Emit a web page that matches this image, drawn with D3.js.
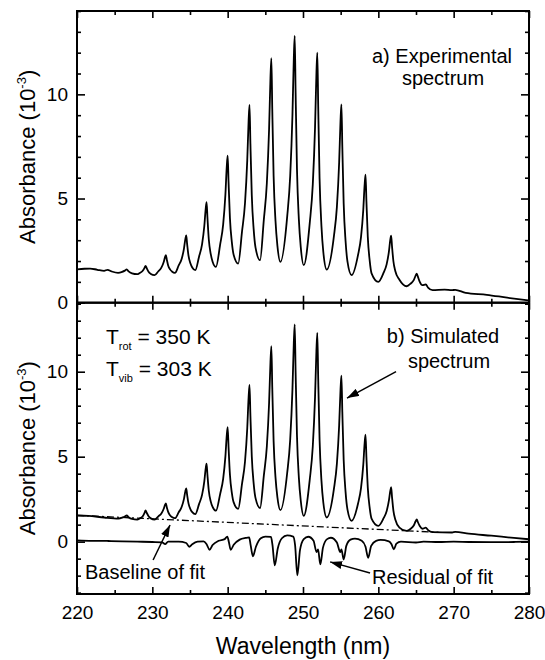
<!DOCTYPE html>
<html><head><meta charset="utf-8">
<script src="https://cdn.jsdelivr.net/npm/d3@7"></script>
<style>
html,body{margin:0;padding:0;background:#fff;}
svg text{font-family:"Liberation Sans",Arial,Helvetica,sans-serif;fill:#000;}
</style></head>
<body>
<svg id="chart" width="545" height="660"></svg>
<script>
// ---------- data ----------
const xTicksMajor = [220, 230, 240, 250, 260, 270, 280];
const xTicksMinor = [225, 235, 245, 255, 265, 275];
const yTicksTopMajor = [0, 5, 10];
const yTicksBotMajor = [0, 5, 10];

const expWavelength = [220,221,221.75,222.7,223.6,224.06,224.6,225.45,
226.0,226.35,226.6,226.85,227.3,228.0,
228.3,228.7,228.95,229.1,229.25,229.5,229.8,230.3,
230.8,231.2,231.5,231.68,231.8,231.92,232.1,232.35,232.6,233.0,
233.5,233.9,234.2,234.38,234.5,234.62,234.8,235.05,235.3,235.7,
236.2,236.6,236.9,237.08,237.2,237.32,237.5,237.75,238.0,238.45,
239.0,239.4,239.7,239.88,240.0,240.12,240.3,240.55,240.8,241.4,
241.9,242.3,242.6,242.78,242.9,243.02,243.2,243.45,243.7,244.3,
244.8,245.2,245.5,245.68,245.8,245.92,246.1,246.35,246.6,247.0,
247.9,248.3,248.6,248.78,248.9,249.02,249.2,249.45,249.7,250.1,
250.9,251.3,251.6,251.78,251.9,252.02,252.2,252.45,252.7,253.15,
254.1,254.5,254.8,254.98,255.1,255.22,255.4,255.65,255.9,256.45,
257.3,257.7,258.0,258.18,258.3,258.42,258.6,258.85,259.1,260.0,
260.7,261.1,261.4,261.58,261.7,261.82,262.0,262.25,262.8,263.75,
264.3,264.7,264.95,265.1,265.25,265.5,265.85,266.3,266.6,267.2,268.8,269.75,270.2,271.6,274.4,277.1,279.9];
const expAbsorbance = [1.60,1.63,1.64,1.58,1.53,1.58,1.50,1.43,
1.48,1.54,1.60,1.50,1.41,1.37,
1.42,1.52,1.66,1.77,1.66,1.48,1.38,1.32,
1.51,1.68,1.94,2.18,2.28,2.07,1.79,1.60,1.50,1.43,
1.79,2.11,2.60,3.05,3.23,2.81,2.26,1.89,1.69,1.56,
2.21,2.80,3.68,4.49,4.82,4.05,3.02,2.34,1.97,1.72,
2.79,3.75,5.19,6.53,7.06,5.77,4.06,2.92,2.29,1.88,
3.40,4.77,6.83,8.73,9.49,7.63,5.17,3.53,2.64,2.04,
3.98,5.73,8.35,10.77,11.74,9.30,6.07,3.92,2.74,1.96,
4.13,6.08,9.01,11.73,12.81,10.06,6.42,4.00,2.68,1.80,
3.84,5.68,8.43,10.98,12.00,9.40,5.96,3.67,2.42,1.59,
3.18,4.60,6.74,8.73,9.52,7.47,4.76,2.96,1.98,1.32,
2.28,3.15,4.45,5.66,6.14,4.86,3.16,2.03,1.41,1.00,
1.44,1.84,2.44,3.00,3.22,2.69,1.99,1.52,1.10,0.79,
0.92,1.08,1.30,1.40,1.25,1.00,0.84,0.88,0.72,0.60,0.63,0.60,0.62,0.47,0.38,0.24,0.11];

const simWavelength = [220,221.5,223.6,225.5,
226.0,226.35,226.6,226.85,227.3,228.0,
228.3,228.7,228.95,229.1,229.25,229.5,229.8,230.3,
230.8,231.2,231.5,231.68,231.8,231.92,232.1,232.35,232.6,233.0,
233.5,233.9,234.2,234.38,234.5,234.62,234.8,235.05,235.3,235.7,
236.2,236.6,236.9,237.08,237.2,237.32,237.5,237.75,238.0,238.45,
239.0,239.4,239.7,239.88,240.0,240.12,240.3,240.55,240.8,241.4,
241.9,242.3,242.6,242.78,242.9,243.02,243.2,243.45,243.7,244.3,
244.8,245.2,245.5,245.68,245.8,245.92,246.1,246.35,246.6,247.0,
247.9,248.3,248.6,248.78,248.9,249.02,249.2,249.45,249.7,250.1,
250.9,251.3,251.6,251.78,251.9,252.02,252.2,252.45,252.7,253.15,
254.1,254.5,254.8,254.98,255.1,255.22,255.4,255.65,255.9,256.45,
257.3,257.7,258.0,258.18,258.3,258.42,258.6,258.85,259.1,260.0,
260.7,261.1,261.4,261.58,261.7,261.82,262.0,262.25,262.8,263.75,
264.3,264.7,264.95,265.1,265.25,265.5,265.85,266.3,266.6,267.2,269.8,270.2,272,275,278,280];
const simAbsorbance = [1.54,1.52,1.42,1.36,
1.41,1.48,1.54,1.44,1.34,1.30,
1.36,1.48,1.68,1.84,1.70,1.50,1.37,1.30,
1.49,1.66,1.92,2.16,2.25,2.03,1.75,1.55,1.45,1.38,
1.73,2.05,2.52,2.96,3.13,2.75,2.25,1.92,1.74,1.62,
2.21,2.75,3.55,4.29,4.59,3.90,2.98,2.37,2.04,1.82,
2.80,3.69,5.02,6.25,6.74,5.54,3.95,2.89,2.31,1.93,
3.39,4.70,6.67,8.49,9.22,7.41,5.02,3.43,2.56,1.98,
3.88,5.60,8.17,10.55,11.50,9.09,5.90,3.78,2.62,1.85,
4.04,6.00,8.96,11.70,12.79,9.97,6.25,3.77,2.42,1.52,
3.67,5.61,8.52,11.21,12.29,9.57,5.99,3.59,2.29,1.42,
3.09,4.59,6.85,8.94,9.77,7.63,4.81,2.93,1.90,1.22,
2.23,3.15,4.52,5.78,6.29,4.95,3.18,2.00,1.36,0.93,
1.38,1.79,2.41,2.97,3.20,2.61,1.83,1.30,0.83,0.63,
0.76,0.95,1.20,1.31,1.15,0.92,0.76,0.82,0.68,0.56,0.54,0.58,0.47,0.35,0.22,0.14];

const baselineWavelength = [220, 268];
const baselineAbsorbance = [1.55, 0.55];

const resWavelength = [220,222,224,226,228,230,231.3,231.7,232.1,233.5,234.5,234.9,235.3,236,236.8,237.2,237.6,238.0,238.8,
239.6,239.95,240.15,240.4,240.8,241.6,242.4,242.85,243.05,243.35,243.75,244.4,245.0,245.75,245.95,246.25,246.65,247.2,247.9,
248.7,248.95,249.25,249.6,250.1,250.7,251.4,251.8,252.0,252.3,252.65,253.2,253.7,254.5,254.95,255.1,255.4,255.75,256.3,256.9,
257.8,258.3,258.65,259.05,259.7,260.3,261.4,261.75,262.05,262.4,263,265,266,268,270,272,275,278,280];
const resAbsorbance = [0.08,0.05,0.04,0.02,0.0,-0.02,-0.04,-0.14,0.0,0.0,-0.08,-0.3,-0.15,0.0,0.02,-0.15,-0.48,-0.2,0.05,
0.15,0.3,0.0,-0.48,-0.18,0.12,0.22,0.25,-0.2,-0.86,-0.3,0.2,0.3,0.28,-0.2,-1.4,-0.4,0.2,0.37,
0.3,-0.2,-1.98,-0.5,0.15,0.29,0.05,-0.62,-0.45,-1.34,-0.35,0.15,0.23,-0.05,-0.62,-0.45,-1.05,-0.25,0.12,0.18,
0.05,-0.3,-0.95,-0.25,0.05,0.1,0.02,-0.15,-0.45,-0.12,0.0,-0.05,0.0,-0.02,0.0,-0.02,-0.03,-0.02,0.0];

// ---------- layout ----------
const svg = d3.select("#chart");
const L = 77, R = 529, T1 = 11, B1 = 302.7, T2 = 302.7, B2 = 594;
const x = d3.scaleLinear().domain([220, 280]).range([L, R]);
const yTop = d3.scaleLinear().domain([0, 14]).range([B1, T1]);
const yBot = d3.scaleLinear().domain([-3.08, 14.06]).range([B2, T2]);

const zip = (a, b) => a.map((v, i) => [v, b[i]]);

function drawAxes(y, top, bottom, yMajor, showX, ext) {
  const yMinor = d3.range(Math.ceil(ext[0]), Math.floor(ext[1]) + 1).filter(v => !yMajor.includes(v));
  const g = svg.append("g");
  g.append("g").attr("transform", `translate(${L},0)`)
    .call(d3.axisLeft(y).tickValues(yMajor).tickSize(-8).tickPadding(9).tickFormat(d3.format("d")));
  g.append("g").attr("transform", `translate(${L},0)`)
    .call(d3.axisLeft(y).tickValues(yMinor).tickSize(-4).tickFormat(""));
  g.append("g").attr("transform", `translate(${R},0)`)
    .call(d3.axisRight(y).tickValues(yMajor).tickSize(-8).tickFormat(""));
  g.append("g").attr("transform", `translate(${R},0)`)
    .call(d3.axisRight(y).tickValues(yMinor).tickSize(-4).tickFormat(""));
  g.append("g").attr("transform", `translate(0,${top})`)
    .call(d3.axisTop(x).tickValues(xTicksMajor).tickSize(-7).tickFormat(""));
  g.append("g").attr("transform", `translate(0,${top})`)
    .call(d3.axisTop(x).tickValues(xTicksMinor).tickSize(-4).tickFormat(""));
  g.append("g").attr("transform", `translate(0,${bottom})`)
    .call(d3.axisBottom(x).tickValues(xTicksMajor).tickSize(-7).tickPadding(12)
      .tickFormat(showX ? d3.format("d") : ""));
  g.append("g").attr("transform", `translate(0,${bottom})`)
    .call(d3.axisBottom(x).tickValues(xTicksMinor).tickSize(-4).tickFormat(""));
  g.selectAll(".domain").remove();
  g.selectAll(".tick line").attr("stroke", "#000").attr("stroke-width", 1.6);
  g.selectAll(".tick text").attr("font-size", 19).attr("fill", "#000");
  g.append("rect").attr("x", L).attr("y", top).attr("width", R - L).attr("height", bottom - top)
    .attr("fill", "none").attr("stroke", "#000").attr("stroke-width", 2);
}

drawAxes(yTop, T1, B1, yTicksTopMajor, false, [0, 14]);
drawAxes(yBot, T2, B2, yTicksBotMajor, true, [-3.08, 14.06]);

// ---------- curves ----------
const lineTop = d3.line().x(d => x(d[0])).y(d => yTop(d[1])).curve(d3.curveMonotoneX);
const lineBot = d3.line().x(d => x(d[0])).y(d => yBot(d[1])).curve(d3.curveMonotoneX);
const sw = 1.8;
svg.append("path").attr("d", lineTop(zip(expWavelength, expAbsorbance)))
  .attr("fill", "none").attr("stroke", "#000").attr("stroke-width", sw).attr("stroke-linejoin", "round");
svg.append("path").attr("d", lineBot(zip(simWavelength, simAbsorbance)))
  .attr("fill", "none").attr("stroke", "#000").attr("stroke-width", sw).attr("stroke-linejoin", "round");
svg.append("path").attr("d", lineBot(zip(resWavelength, resAbsorbance)))
  .attr("fill", "none").attr("stroke", "#000").attr("stroke-width", sw).attr("stroke-linejoin", "round");
svg.append("path").attr("d", d3.line().x(d => x(d[0])).y(d => yBot(d[1]))(zip(baselineWavelength, baselineAbsorbance)))
  .attr("fill", "none").attr("stroke", "#000").attr("stroke-width", 1.3).attr("stroke-dasharray", "7,3,2,3");

// ---------- text ----------
const fs = 20;
function txt(px, py, s, anchor, size) {
  return svg.append("text").attr("x", px).attr("y", py).attr("font-size", size || fs)
    .attr("text-anchor", anchor || "start").text(s);
}
txt(442, 63, "a) Experimental", "middle");
txt(443, 85, "spectrum", "middle");
txt(443, 343, "b) Simulated", "middle");
txt(449, 368, "spectrum", "middle");

function tempLabel(px, py, sub, rest) {
  const t = svg.append("text").attr("x", px).attr("y", py).attr("font-size", 21);
  t.append("tspan").text("T");
  t.append("tspan").attr("font-size", 11).attr("dy", 6).text(sub);
  t.append("tspan").attr("dy", -6).text(" " + rest);
}
tempLabel(106, 344, "rot", "= 350 K");
tempLabel(106, 376, "vib", "= 303 K");

txt(85, 579, "Baseline of fit");
txt(372, 584, "Residual of fit");

function yTitle(cy) {
  const t = svg.append("text").attr("transform", `translate(35,${cy}) rotate(-90)`)
    .attr("text-anchor", "middle").attr("font-size", 22);
  t.append("tspan").text("Absorbance (10");
  t.append("tspan").attr("font-size", 13).attr("dy", -9).text("-3");
  t.append("tspan").attr("dy", 9).text(")");
}
yTitle(yTop(7));
yTitle(yBot(5.5));
svg.append("text").attr("x", (L + R) / 2).attr("y", 654).attr("text-anchor", "middle")
  .attr("font-size", 23).text("Wavelength (nm)");

// ---------- arrows ----------
svg.append("defs").append("marker").attr("id", "ah").attr("viewBox", "0 0 12 8")
  .attr("refX", 12).attr("refY", 4).attr("markerWidth", 12).attr("markerHeight", 8)
  .attr("markerUnits", "userSpaceOnUse").attr("orient", "auto")
  .append("path").attr("d", "M0,0 L12,4 L0,8 Z").attr("fill", "#000");
function arrow(x1, y1, x2, y2) {
  svg.append("line").attr("x1", x(x1)).attr("y1", yBot(y1)).attr("x2", x(x2)).attr("y2", yBot(y2))
    .attr("stroke", "#000").attr("stroke-width", 1.5).attr("marker-end", "url(#ah)");
}
arrow(262.35, 10.0, 255.84, 8.45);
arrow(230.1, -1.08, 232.35, 0.98);
arrow(258.9, -1.84, 253.6, -1.19);
</script>
</body></html>
